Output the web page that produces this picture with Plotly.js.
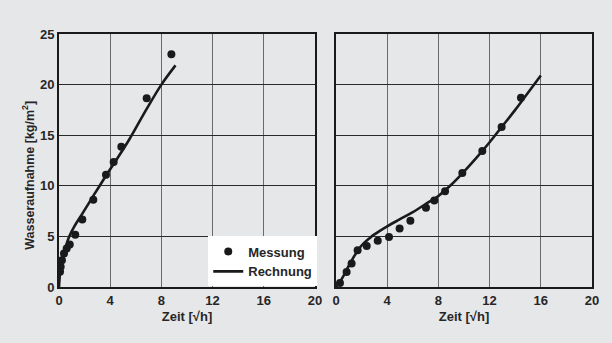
<!DOCTYPE html>
<html><head><meta charset="utf-8">
<script src="https://cdn.plot.ly/plotly-3.0.1.min.js"></script>
<style>html,body{margin:0;padding:0;background:#e6e7e9;}</style>
</head><body>
<div id="chart" style="width:612px;height:343px;"></div>
<script>
// Left panel
const leftMessX = [0.08, 0.13, 0.23, 0.39, 0.6, 0.84, 1.27, 1.82, 2.68, 3.67, 4.27, 4.87, 6.85, 8.78];
const leftMessY = [1.5, 2.0, 2.65, 3.3, 3.8, 4.2, 5.17, 6.67, 8.62, 11.1, 12.35, 13.87, 18.65, 23.0];
const leftCalcX = [0, 0.1, 0.25, 0.5, 0.8, 1.2, 1.8, 2.68, 3.67, 4.5, 5.5, 6.85, 8.0, 9.1];
const leftCalcY = [0, 1.6, 2.7, 3.9, 5.0, 6.0, 7.2, 9.0, 11.0, 12.6, 14.6, 17.6, 20.0, 21.9];
// Right panel
const rightMessX = [0.31, 0.83, 1.22, 1.69, 2.4, 3.26, 4.14, 4.97, 5.81, 7.03, 7.68, 8.52, 9.87, 11.43, 12.94, 14.45];
const rightMessY = [0.4, 1.49, 2.31, 3.63, 4.06, 4.56, 4.95, 5.78, 6.54, 7.83, 8.55, 9.45, 11.26, 13.44, 15.82, 18.69];
const rightCalcX = [0, 0.5, 1, 1.5, 2, 2.6, 3, 4, 5, 6, 7, 8, 9, 10, 11, 12, 13, 14, 15, 16];
const rightCalcY = [0, 0.9, 2.1, 3.2, 4.1, 4.8, 5.2, 6.0, 6.7, 7.4, 8.2, 9.0, 10.1, 11.4, 12.8, 14.3, 15.9, 17.5, 19.2, 20.9];
const xTicks = [0, 4, 8, 12, 16, 20];
const yTicks = [0, 5, 10, 15, 20, 25];
const xTitle = 'Zeit [√h]';
const yTitle = 'Wasseraufnahme [kg/m<sup>2</sup>]';
const names = ['Messung', 'Rechnung'];

const dark = '#1a1a1a';
const txt = '#262626';
const fam = 'Liberation Sans, Arial, sans-serif';
const tickFont = {family: fam, size: 13, color: txt, weight: 'bold'};
const mk = {size: 8, color: dark};
const ln = {color: dark, width: 2.6, shape: 'spline'};
const bold = v => '<b>' + v + '</b>';

const traces = [
  {x: leftMessX, y: leftMessY, mode: 'markers', marker: mk, name: names[0], xaxis: 'x', yaxis: 'y'},
  {x: leftCalcX, y: leftCalcY, mode: 'lines', line: ln, name: names[1], xaxis: 'x', yaxis: 'y'},
  {x: rightMessX, y: rightMessY, mode: 'markers', marker: mk, name: names[0], showlegend: false, xaxis: 'x2', yaxis: 'y2'},
  {x: rightCalcX, y: rightCalcY, mode: 'lines', line: ln, name: names[1], showlegend: false, xaxis: 'x2', yaxis: 'y2'}
];

const axBase = {
  showline: true, mirror: true, linecolor: dark, linewidth: 2,
  showgrid: true, gridwidth: 1, zeroline: false,
  ticks: '', tickfont: tickFont
};
const xBase = Object.assign({}, axBase, {gridcolor: '#6a6a6a', range: [0, 20], tickvals: xTicks,
  ticktext: xTicks.map(bold),
  title: {text: bold(xTitle), font: {family: fam, size: 13, color: txt, weight: 'bold'}, standoff: 5}});
const yBase = Object.assign({}, axBase, {gridcolor: '#2a2a2a', range: [0, 25], tickvals: yTicks,
  ticktext: yTicks.map(bold)});
const layout = {
  width: 612, height: 343,
  paper_bgcolor: '#e6e7e9', plot_bgcolor: '#e6e7e9',
  margin: {l: 59, r: 20, t: 34, b: 56},
  font: tickFont,
  showlegend: true,
  legend: {x: 0.28, y: 0.002, xanchor: 'left', yanchor: 'bottom', bgcolor: '#ffffff',
           font: {family: fam, size: 13, color: txt, weight: 'bold'}, tracegroupgap: 0, itemwidth: 30},
  xaxis: Object.assign({}, xBase, {domain: [0, 0.4803]}),
  yaxis: Object.assign({}, yBase),
  xaxis2: Object.assign({}, xBase, {domain: [0.5197, 1], anchor: 'y2'}),
  yaxis2: Object.assign({}, yBase, {showticklabels: false, anchor: 'x2'}),
  annotations: [{
    text: bold(yTitle), textangle: -90, showarrow: false,
    xref: 'paper', yref: 'paper', x: -0.058, y: 0.44, xanchor: 'center', yanchor: 'middle',
    font: {family: fam, size: 12.5, color: txt, weight: 'bold'}
  }]
};
Plotly.newPlot('chart', traces, layout, {displayModeBar: false, staticPlot: true});
</script>
</body></html>
